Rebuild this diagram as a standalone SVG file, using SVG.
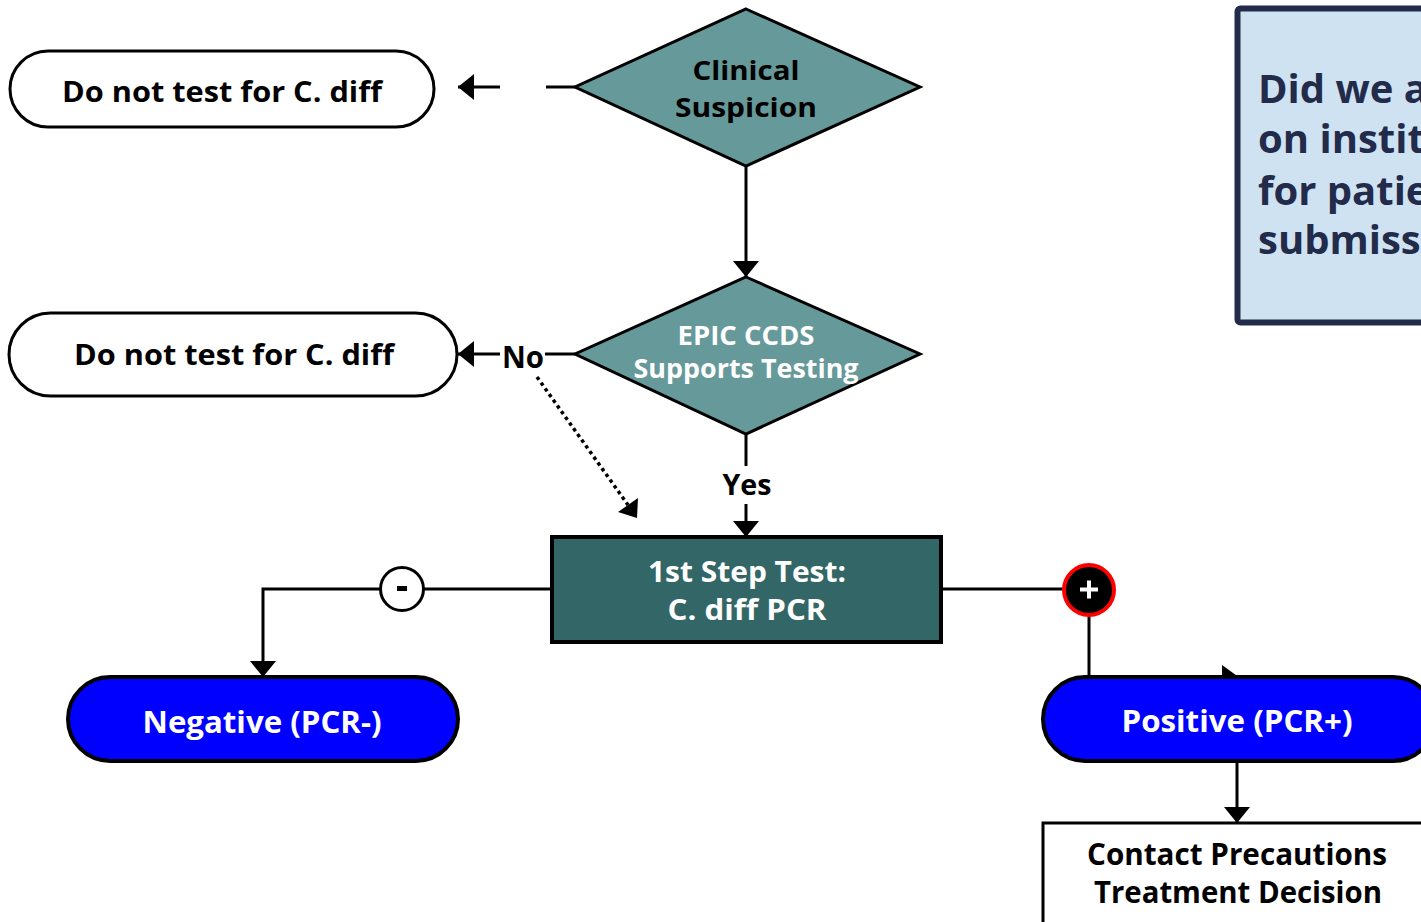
<svg xmlns="http://www.w3.org/2000/svg" width="1421" height="922" viewBox="0 0 1421 922">
  <style>
    .t { font-family: "Open Sans", "Noto Sans", "DejaVu Sans", sans-serif; font-weight: bold; text-anchor: middle; }
    .dark { fill: #000000; }
    .light { fill: #ffffff; }
    .edge { fill: none; stroke: #000000; stroke-width: 3; }
    .term { fill: #ffffff; stroke: #000000; stroke-width: 3; }
    .diamond { fill: #669999; stroke: #000000; stroke-width: 3; }
    .result { fill: #0000ff; stroke: #000000; stroke-width: 4; }
  </style>
  <defs>
    <marker id="arrow" viewBox="0 0 16 26" refX="16" refY="13" markerWidth="16" markerHeight="26" markerUnits="userSpaceOnUse" orient="auto">
      <path d="M0,0 L16,13 L0,26 Z" fill="#000000"/>
    </marker>
  </defs>

  <rect width="1421" height="922" fill="#ffffff"/>

  <!-- connectors -->
  <g id="connectors">
    <line class="edge" x1="546" y1="87" x2="575" y2="87"/>
    <line class="edge" x1="500" y1="87" x2="458" y2="87" marker-end="url(#arrow)"/>
    <line class="edge" x1="746" y1="166" x2="746" y2="277" marker-end="url(#arrow)"/>
    <line class="edge" x1="575" y1="354" x2="545" y2="354"/>
    <line class="edge" x1="500" y1="354" x2="458" y2="354" marker-end="url(#arrow)"/>
    <line x1="537" y1="377" x2="628" y2="505" stroke="#000000" stroke-width="3.5" stroke-dasharray="3.5 3.5"/>
    <polygon points="637,518 618,512 638,498" fill="#000000"/>
    <line class="edge" x1="746" y1="434" x2="746" y2="466"/>
    <line class="edge" x1="746" y1="504" x2="746" y2="537" marker-end="url(#arrow)"/>
    <line class="edge" x1="552" y1="589" x2="424" y2="589"/>
    <polyline class="edge" points="380,589 263,589 263,677" marker-end="url(#arrow)"/>
    <line class="edge" x1="941" y1="589" x2="1064" y2="589"/>
    <line class="edge" x1="1089" y1="614" x2="1089" y2="678"/>
    <polygon points="1222,665 1240,678 1222,691" fill="#000000"/>
    <line class="edge" x1="1237" y1="761" x2="1237" y2="823" marker-end="url(#arrow)"/>
  </g>

  <g id="no-test-top">
    <rect class="term" x="10" y="51" width="424" height="76" rx="38"/>
    <text class="t dark" x="222" y="102" font-size="29" textLength="320" lengthAdjust="spacingAndGlyphs">Do not test for C. diff</text>
  </g>

  <g id="clinical-suspicion">
    <polygon class="diamond" points="746,9 920,87 746,166 575,87"/>
    <text class="t dark" x="746" y="80" font-size="27" textLength="107" lengthAdjust="spacingAndGlyphs">Clinical</text>
    <text class="t dark" x="746" y="117" font-size="27" textLength="142" lengthAdjust="spacingAndGlyphs">Suspicion</text>
  </g>

  <g id="no-test-ccds">
    <rect class="term" x="9" y="313" width="448" height="83" rx="41.5"/>
    <text class="t dark" x="234" y="365" font-size="29" textLength="320" lengthAdjust="spacingAndGlyphs">Do not test for C. diff</text>
  </g>

  <g id="epic-ccds">
    <polygon class="diamond" points="746,277 920,354 746,434 575,354"/>
    <text class="t light" x="746" y="345" font-size="27" textLength="137" lengthAdjust="spacingAndGlyphs">EPIC CCDS</text>
    <text class="t light" x="746" y="378" font-size="27" textLength="225" lengthAdjust="spacingAndGlyphs">Supports Testing</text>
  </g>

  <g id="labels">
    <text class="t dark" x="523" y="368" font-size="30" textLength="42" lengthAdjust="spacingAndGlyphs">No</text>
    <text class="t dark" x="747" y="495" font-size="29" textLength="49" lengthAdjust="spacingAndGlyphs">Yes</text>
  </g>

  <g id="pcr-test">
    <rect x="552" y="537" width="389" height="105" fill="#336666" stroke="#000000" stroke-width="4"/>
    <text class="t light" x="747" y="582" font-size="29" textLength="198" lengthAdjust="spacingAndGlyphs">1st Step Test:</text>
    <text class="t light" x="747" y="620" font-size="29" textLength="159" lengthAdjust="spacingAndGlyphs">C. diff PCR</text>
  </g>

  <g id="minus">
    <circle cx="402" cy="589" r="21.5" fill="#ffffff" stroke="#000000" stroke-width="3"/>
    <rect x="397" y="586" width="10" height="5" fill="#000000"/>
  </g>

  <g id="plus">
    <circle cx="1089" cy="590" r="25" fill="#000000" stroke="#ff0000" stroke-width="4"/>
    <rect x="1080" y="587.5" width="18" height="4" fill="#ffffff"/>
    <rect x="1087" y="580.5" width="4" height="18" fill="#ffffff"/>
  </g>

  <g id="negative">
    <rect class="result" x="68" y="677" width="390" height="84" rx="42"/>
    <text class="t light" x="262" y="733" font-size="31" textLength="239" lengthAdjust="spacingAndGlyphs">Negative (PCR-)</text>
  </g>

  <g id="positive">
    <rect class="result" x="1043" y="677" width="392" height="84" rx="42"/>
    <text class="t light" x="1237" y="732" font-size="31" textLength="231" lengthAdjust="spacingAndGlyphs">Positive (PCR+)</text>
  </g>

  <g id="precautions">
    <rect x="1043" y="823" width="400" height="120" fill="#ffffff" stroke="#000000" stroke-width="3"/>
    <text class="t dark" x="1237" y="865" font-size="30" textLength="300" lengthAdjust="spacingAndGlyphs">Contact Precautions</text>
    <text class="t dark" x="1238" y="903" font-size="30" textLength="288" lengthAdjust="spacingAndGlyphs">Treatment Decision</text>
  </g>

  <g id="question">
    <rect x="1237.5" y="8.5" width="260" height="314" rx="3" fill="#cfe2f1" stroke="#232b4b" stroke-width="6"/>
    <g font-family="'Open Sans', 'Noto Sans', 'DejaVu Sans', sans-serif" font-weight="bold" font-size="40" fill="#232b4b">
      <text x="1258" y="103">Did we agree</text>
      <text x="1258" y="153">on institutional</text>
      <text x="1258" y="205">for patient</text>
      <text x="1258" y="254">submission</text>
    </g>
  </g>
</svg>
